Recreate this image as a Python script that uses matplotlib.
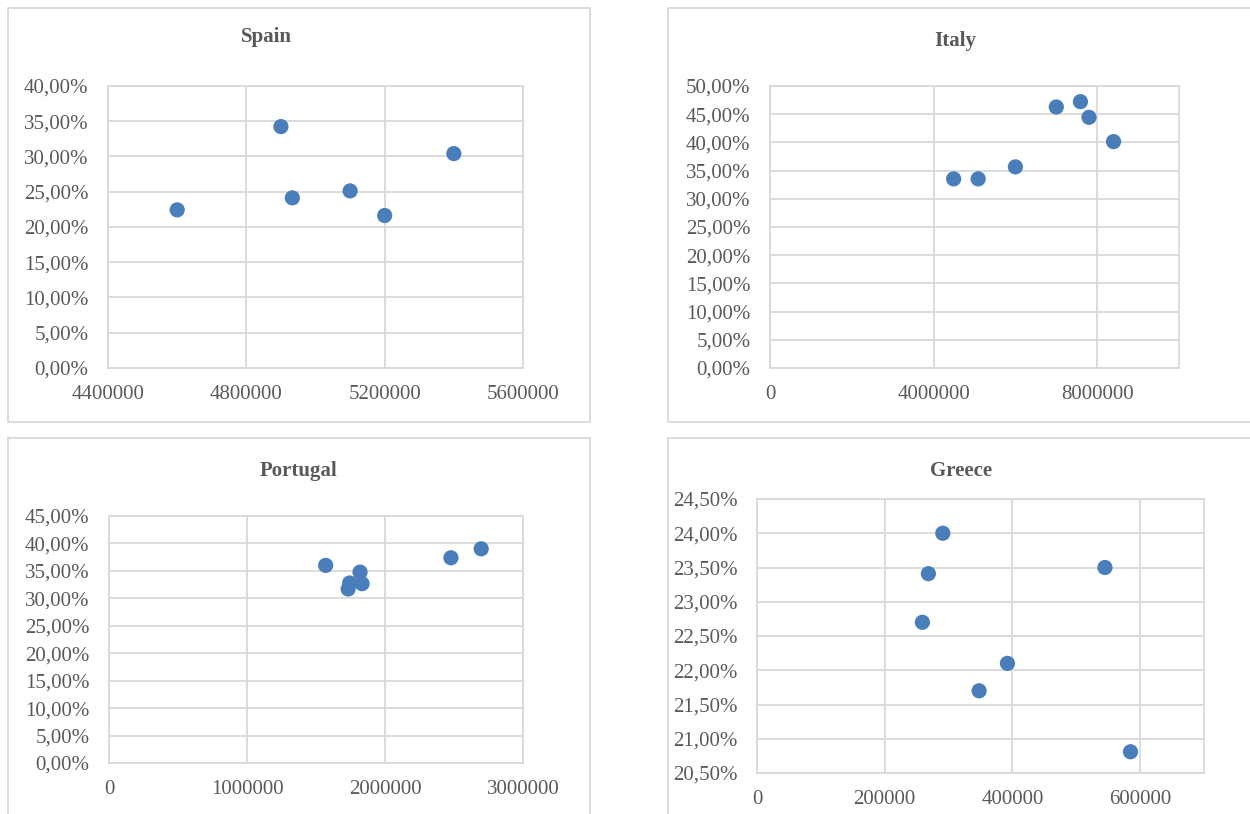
import matplotlib
matplotlib.use("Agg")
import matplotlib.pyplot as plt
from matplotlib.patches import Rectangle

# ---- data -------------------------------------------------------------
spain_x = [4600000, 4900000, 4933000, 5100000, 5200000, 5400000]
spain_y = [22.43, 34.24, 24.13, 25.12, 21.63, 30.41]

italy_x = [4490000, 5090000, 6000000, 7000000, 7590000, 7800000, 8400000]
italy_y = [33.53, 33.53, 35.66, 46.28, 47.23, 44.45, 40.14]

portugal_x = [1570000, 1819000, 1744000, 1733000, 1834000, 2478000, 2697000]
portugal_y = [36.00, 34.78, 32.79, 31.70, 32.67, 37.39, 39.02]

greece_x = [291000, 268400, 259000, 392200, 347800, 544900, 584900]
greece_y = [24.00, 23.41, 22.70, 22.10, 21.70, 23.50, 20.81]

spain_xticks = [4400000, 4800000, 5200000, 5600000]
italy_xticks = [0, 4000000, 8000000]
portugal_xticks = [0, 1000000, 2000000, 3000000]
greece_xticks = [0, 200000, 400000, 600000]

# ---- styling ----------------------------------------------------------
W, H = 1250, 814
plt.rcParams["font.family"] = ["Liberation Serif", "DejaVu Serif"]
TEXT = "#595959"
GRID = "#d9d9d9"
DOT = "#4a7ebb"
FS = 15

fig = plt.figure(figsize=(W / 100, H / 100), dpi=100)
fig.patch.set_facecolor("white")


def fx(px):
    return px / W


def fy(py):
    return 1 - py / H


def chart_box(x0, y0, x1, y1):
    fig.patches.append(Rectangle((fx(x0), fy(y1)), fx(x1) - fx(x0), fy(y0) - fy(y1),
                                 transform=fig.transFigure, fill=False,
                                 edgecolor=GRID, linewidth=1.3, zorder=0))


def panel(left, top, right, bottom, xs, ys, xlim, xticks, ylim, ystep, decimals,
          title, tx, ty):
    ax = fig.add_axes([fx(left), fy(bottom), fx(right) - fx(left), fy(top) - fy(bottom)])
    ax.scatter(xs, ys, s=120, color=DOT, edgecolors="none", zorder=3, clip_on=False)
    ax.set_xlim(*xlim)
    ax.set_ylim(*ylim)
    ax.set_xticks(xticks)
    ax.set_xticklabels([str(t) for t in xticks])
    n = int(round((ylim[1] - ylim[0]) / ystep))
    yt = [ylim[0] + i * ystep for i in range(n + 1)]
    ax.set_yticks(yt)
    ax.set_yticklabels([f"{v:.{decimals}f}%".replace(".", ",") for v in yt])
    ax.grid(True, color=GRID, linewidth=1.3, zorder=0)
    ax.set_axisbelow(True)
    for sp in ax.spines.values():
        sp.set_color(GRID)
        sp.set_linewidth(1.3)
    ax.tick_params(axis="both", length=0, labelsize=FS, colors=TEXT)
    ax.tick_params(axis="y", pad=14)
    ax.tick_params(axis="x", pad=12)
    fig.text(fx(tx), fy(ty), title, ha="center", va="center", fontsize=FS,
             fontweight="bold", color=TEXT)
    return ax


# outer chart frames
chart_box(8, 8, 590, 422)
chart_box(668, 8, 1262, 422)
chart_box(8, 438, 590, 826)
chart_box(668, 438, 1262, 826)

panel(108, 86, 523, 368, spain_x, spain_y, (4400000, 5600000), spain_xticks,
      (0, 40), 5, 2, "Spain", 266, 37)
panel(770, 86, 1179, 368, italy_x, italy_y, (0, 10000000), italy_xticks,
      (0, 50), 5, 2, "Italy", 955, 41)
panel(109, 516, 523, 763, portugal_x, portugal_y, (0, 3000000), portugal_xticks,
      (0, 45), 5, 2, "Portugal", 299, 471)
panel(757, 499, 1204, 773, greece_x, greece_y, (0, 700000), greece_xticks,
      (20.5, 24.5), 0.5, 2, "Greece", 961, 471)

fig.savefig("out.png", dpi=100, facecolor="white")
